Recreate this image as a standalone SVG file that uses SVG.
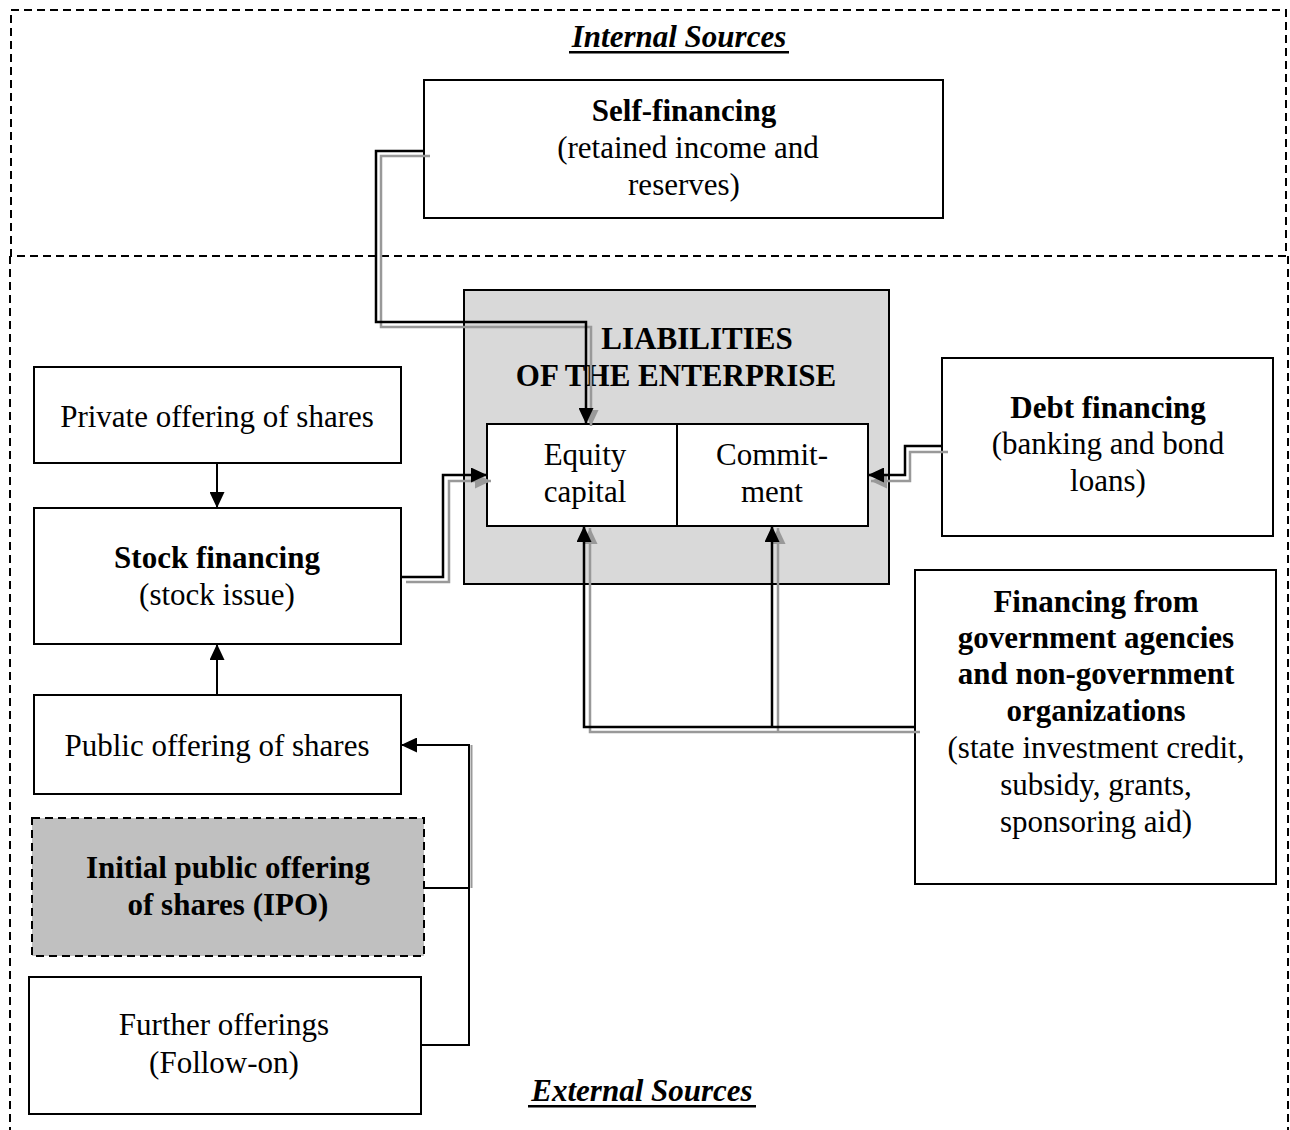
<svg xmlns="http://www.w3.org/2000/svg" width="1290" height="1130" viewBox="0 0 1290 1130">
  <defs>
    <style>
      .frame { fill: none; stroke: #000; stroke-width: 2; stroke-dasharray: 8 5; }
      .box { fill: #fff; stroke: #000; stroke-width: 2; }
      .t { font-family: "Liberation Serif", "Times New Roman", serif; font-size: 31px; fill: #000; text-anchor: middle; }
      .b { font-weight: bold; }
      .hd { font-weight: bold; font-style: italic; }
      .k { fill: none; stroke: #000; stroke-width: 2.5; }
      .g { fill: none; stroke: #999; stroke-width: 2.5; }
      .thin { fill: none; stroke: #000; stroke-width: 2; }
    </style>
    <marker id="ak" markerUnits="userSpaceOnUse" markerWidth="17" markerHeight="15" refX="16" refY="7.5" orient="auto">
      <path d="M0,0 L16,7.5 L0,15 z" fill="#000"/>
    </marker>
    <marker id="ag" markerUnits="userSpaceOnUse" markerWidth="17" markerHeight="15" refX="16" refY="7.5" orient="auto">
      <path d="M0,0 L16,7.5 L0,15 z" fill="#999"/>
    </marker>
  </defs>
  <rect width="1290" height="1130" fill="#fff"/>

  <!-- section frames -->
  <g id="frames">
    <rect class="frame" x="11" y="10" width="1275" height="246"/>
    <path class="frame" d="M10,256 V1130 M1288,256 V1130"/>
    <text class="t hd" x="679" y="47">Internal Sources</text>
    <rect x="569" y="51" width="220" height="2.5" fill="#000"/>
    <text class="t hd" x="642" y="1101">External Sources</text>
    <rect x="528" y="1105" width="228" height="2.5" fill="#000"/>
  </g>

  <g id="self-financing">
    <rect class="box" x="424" y="80" width="519" height="138"/>
    <text class="t b" x="684" y="121">Self-financing</text>
    <text class="t" x="688" y="158">(retained income and</text>
    <text class="t" x="684" y="195">reserves)</text>
  </g>

  <g id="liabilities">
    <rect x="464" y="290" width="425" height="294" fill="#d9d9d9" stroke="#000" stroke-width="2"/>
    <text class="t b" x="697" y="349">LIABILITIES</text>
    <text class="t b" x="676" y="386">OF THE ENTERPRISE</text>
  </g>

  <g id="equity-capital">
    <rect class="box" x="487" y="424" width="190" height="102"/>
    <text class="t" x="585" y="465">Equity</text>
    <text class="t" x="585" y="502">capital</text>
  </g>

  <g id="commitment">
    <rect class="box" x="677" y="424" width="191" height="102"/>
    <text class="t" x="772" y="465">Commit-</text>
    <text class="t" x="772" y="502">ment</text>
  </g>

  <g id="private-offering">
    <rect class="box" x="34" y="367" width="367" height="96"/>
    <text class="t" x="217" y="427">Private offering of shares</text>
  </g>

  <g id="stock-financing">
    <rect class="box" x="34" y="508" width="367" height="136"/>
    <text class="t b" x="217" y="568">Stock financing</text>
    <text class="t" x="217" y="605">(stock issue)</text>
  </g>

  <g id="public-offering">
    <rect class="box" x="34" y="695" width="367" height="99"/>
    <text class="t" x="217" y="756">Public offering of shares</text>
  </g>

  <g id="ipo">
    <rect x="32" y="818" width="392" height="138" fill="#c0c0c0" stroke="#000" stroke-width="2" stroke-dasharray="8 5"/>
    <text class="t b" x="228" y="878">Initial public offering</text>
    <text class="t b" x="228" y="915">of shares (IPO)</text>
  </g>

  <g id="further-offerings">
    <rect class="box" x="29" y="977" width="392" height="137"/>
    <text class="t" x="224" y="1035">Further offerings</text>
    <text class="t" x="224" y="1073">(Follow-on)</text>
  </g>

  <g id="debt-financing">
    <rect class="box" x="942" y="358" width="331" height="178"/>
    <text class="t b" x="1108" y="418">Debt financing</text>
    <text class="t" x="1108" y="454">(banking and bond</text>
    <text class="t" x="1108" y="491">loans)</text>
  </g>

  <g id="government-financing">
    <rect class="box" x="915" y="570" width="361" height="314"/>
    <text class="t b" x="1096" y="612">Financing from</text>
    <text class="t b" x="1096" y="648">government agencies</text>
    <text class="t b" x="1096" y="684">and non-government</text>
    <text class="t b" x="1096" y="721">organizations</text>
    <text class="t" x="1096" y="758">(state investment credit,</text>
    <text class="t" x="1096" y="795">subsidy, grants,</text>
    <text class="t" x="1096" y="832">sponsoring aid)</text>
  </g>

  <!-- connectors: grey shadow line drawn first, black line on top -->
  <g id="connectors">
    <!-- self-financing to equity capital -->
    <path class="g" stroke="#b3b3b3" d="M430,156 H381 V327 H591 V426" marker-end="url(#ag)"/>
    <path class="k" d="M424,151 H376 V322 H586 V424" marker-end="url(#ak)"/>
    <!-- stock financing to equity capital -->
    <path class="g" d="M406,582 H449 V481 H491" marker-end="url(#ag)"/>
    <path class="k" d="M401,577 H443 V475 H487" marker-end="url(#ak)"/>
    <!-- debt financing to commitment -->
    <path class="g" d="M948,452 H910 V481 H871" marker-end="url(#ag)"/>
    <path class="k" d="M942,446 H905 V475 H868" marker-end="url(#ak)"/>
    <!-- government financing to equity capital and commitment -->
    <path class="g" d="M920,732 H590 V528" marker-end="url(#ag)"/>
    <path class="g" d="M778,732 V528" marker-end="url(#ag)"/>
    <path class="k" d="M915,727 H584 V526" marker-end="url(#ak)"/>
    <path class="k" d="M772,727 V526" marker-end="url(#ak)"/>
    <!-- offerings feeding stock financing -->
    <path class="thin" d="M217,463 V508" marker-end="url(#ak)"/>
    <path class="thin" d="M217,695 V644" marker-end="url(#ak)"/>
    <path fill="none" stroke="#999" stroke-width="2" d="M471.5,888 V745"/>
    <path class="thin" d="M424,888 H469 V745 H401" marker-end="url(#ak)"/>
    <path class="thin" d="M421,1045 H469 V888"/>
  </g>
</svg>
